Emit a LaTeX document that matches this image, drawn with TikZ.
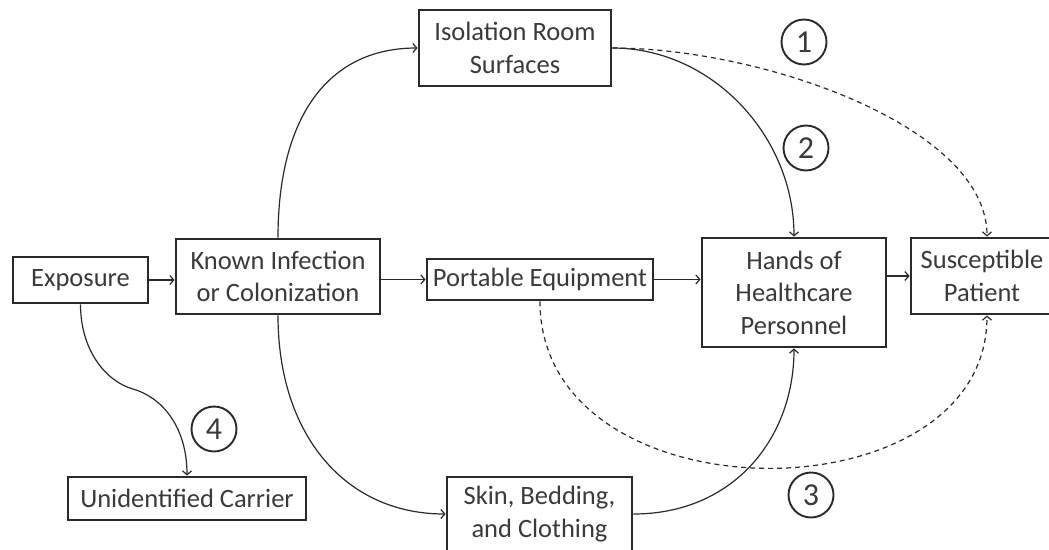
\documentclass[tikz,border=0pt]{standalone}
\usepackage{fontspec}
\setmainfont{Carlito}
\usetikzlibrary{arrows.meta}
\definecolor{ink}{HTML}{2A2A2A}
\definecolor{txt}{HTML}{3A3A3A}
\begin{document}
\begin{tikzpicture}[x=1pt,y=-1pt,
 box/.style={draw=ink, line width=2.8pt, rectangle, inner sep=0pt, align=center, text=txt, font=\fontsize{26.5}{32.5}\selectfont},
 conn/.style={draw=ink, line width=1.2pt, -{Straight Barb[length=4pt,width=9pt]}},
 dconn/.style={conn, dash pattern=on 5pt off 4pt},
 num/.style={draw=ink, line width=1.9pt, circle, minimum size=45pt, inner sep=0pt, text=txt, font=\fontsize{32}{32}\selectfont}]
\useasboundingbox (0,0) rectangle (1049,549);
\fill[white] (0,0) rectangle (1049,549);
\node[box, minimum width=135pt, minimum height=46pt] (exp) at (80.5,280) {Exposure};
\node[box, minimum width=204pt, minimum height=75pt] (known) at (278,276.5) {Known Infection\\or Colonization};
\node[box, minimum width=192pt, minimum height=76pt] (iso) at (515,48) {Isolation Room\\Surfaces};
\node[box, minimum width=226pt, minimum height=41pt] (port) at (540,279.5) {Portable Equipment};
\node[box, minimum width=184pt, minimum height=109pt] (hands) at (794,292.5) {Hands of\\Healthcare\\Personnel};
\node[box, minimum width=142pt, minimum height=76pt] (sus) at (982,276) {Susceptible\\Patient};
\node[box, minimum width=238pt, minimum height=43pt] (unid) at (187,498.5) {Unidentified Carrier};
\node[box, minimum width=185pt, minimum height=74pt] (skin) at (539.5,514) {Skin, Bedding,\\and Clothing};
\node[num] (n1) at (804,42) {1};
\node[num] (n2) at (806,148) {2};
\node[num] (n3) at (811,495) {3};
\node[num] (n4) at (214,429) {4};
\coordinate (m4) at (133,389);
\coordinate (susN) at ([xshift=5pt]sus.north);
\coordinate (susS) at ([xshift=5pt]sus.south);
\draw[conn] (exp.east) -- (exp.east -| known.west);
\draw[conn] (known.east |- port.west) -- (port.west);
\draw[conn] (port.east) -- (port.east -| hands.west);
\draw[conn] (hands.east |- sus.west) -- (sus.west);
\draw[conn] (known.north) .. controls +(0,-120) and +(-90,0) .. (iso.west);
\draw[conn] (known.south) .. controls +(0,120) and +(-100,0) .. (skin.west);
\draw[conn] (iso.east) .. controls +(100,0) and +(0,-100) .. (hands.north);
\draw[dconn] (iso.east) .. controls +(150,0) and +(0,-110) .. (susN);
\draw[conn] (skin.east) .. controls +(100,0) and +(0,90) .. (hands.south);
\draw[dconn] (port.south) .. controls +(0,220) and +(0,206) .. (susS);
\draw[conn] (exp.south) .. controls +(0,45) and +(-28,-8) .. (m4) .. controls +(28,8) and +(0,-50) .. (unid.north);
\end{tikzpicture}
\end{document}
